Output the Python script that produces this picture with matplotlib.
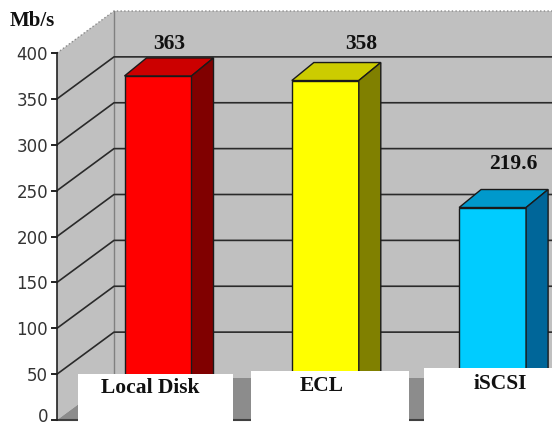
import matplotlib
matplotlib.use('Agg')
import matplotlib.pyplot as plt
from matplotlib.patches import Polygon, Rectangle

# dane
kategorie = ['Local Disk', 'ECL', 'iSCSI']
wartosci = [363, 358, 219.6]
etykiety = ['363', '358', '219.6']
ticki = [0, 50, 100, 150, 200, 250, 300, 350, 400]
kolory_przod = ['#FF0000', '#FFFF00', '#00CCFF']
kolory_gora = ['#CC0000', '#CCCC00', '#0099CC']
kolory_bok = ['#800000', '#808000', '#006699']

SERIF = 'Liberation Serif'
skala = 0.9175  # pikseli na Mb/s


def dy(px):
    return px / skala


fig = plt.figure(figsize=(5.52, 4.24), dpi=100)
ax = fig.add_axes([0, 0, 1, 1])
ax.set_xlim(0, 552)
ax.set_ylim(dy(-4), dy(420))
ax.axis('off')

# sciany wykresu
x_front, x_back, glebia = 57, 114, dy(42)
gora = 400 + glebia
ax.add_patch(Polygon([(x_front, 0), (x_back, glebia), (x_back, gora), (x_front, 400)],
                     fc='#C0C0C0', ec='none', zorder=1))
ax.add_patch(Rectangle((x_back, glebia), 552 - x_back, 400, fc='#C0C0C0', ec='none', zorder=1))
ax.add_patch(Polygon([(x_front, 0), (x_back, glebia), (552, glebia), (552, 0)],
                     fc='#8C8C8C', ec='none', hatch='....', lw=0, zorder=1.5))
ax.plot([x_front, x_back, 552], [400, gora, gora], color='#8A8A8A', lw=1, ls=':', zorder=2)
ax.plot([x_back, x_back], [glebia, gora], color='#808080', lw=1, zorder=2)
ax.plot([x_front, 552], [0, 0], color='#404040', lw=1.5, zorder=2)

# linie siatki i opisy osi
for t in ticki[1:-1]:
    ax.plot([x_front, x_back, 552], [t, t + glebia, t + glebia], color='#2A2A2A', lw=1.2, zorder=2)
for t in ticki:
    ax.plot([x_front - 5, x_front], [t, t], color='#222222', lw=1.4, zorder=3)
    # zero lezy przy samej krawedzi obrazka, troche wyzej zeby sie miescilo
    y_opis = t if t > 0 else dy(5)
    ax.text(x_front - 9, y_opis, str(t), ha='right', va='center_baseline', fontsize=12, color='#333333', zorder=3)
ax.plot([x_front, x_front], [0, 400], color='#222222', lw=1.2, zorder=3)

# slupki 3D
szer, bok_x, bok_y, wciecie = 67, 22, dy(18), dy(11)
for i, v in enumerate(wartosci):
    x = 124.5 + i * 167.3
    y = v + wciecie
    ax.add_patch(Rectangle((x, wciecie), szer, v, fc=kolory_przod[i], ec='#1A1A1A', lw=1, zorder=4))
    ax.add_patch(Polygon([(x, y), (x + bok_x, y + bok_y), (x + szer + bok_x, y + bok_y), (x + szer, y)],
                         fc=kolory_gora[i], ec='#1A1A1A', lw=1, zorder=4))
    ax.add_patch(Polygon([(x + szer, wciecie), (x + szer + bok_x, wciecie + bok_y),
                          (x + szer + bok_x, y + bok_y), (x + szer, y)],
                         fc=kolory_bok[i], ec='#1A1A1A', lw=1, zorder=4))

# wartosci nad slupkami
pozycje_wart = [(169, 376), (361, 376), (513, 256)]
for (x, yp), tekst in zip(pozycje_wart, etykiety):
    ax.text(x, dy(yp), tekst, ha='center', va='center', family=SERIF, weight='bold',
            fontsize=15.5, color='#111111', zorder=6)

ax.text(32, dy(399), 'Mb/s', ha='center', va='center', family=SERIF, weight='bold',
        fontsize=15, color='#111111', zorder=6)

# biale pola z nazwami kategorii
pola = [(78, 233, 46), (251, 409, 49), (424, 552, 52)]
pozycje_kat = [(150, 32), (322, 34), (500, 36)]
for (x0, x1, h), (x, yp), nazwa in zip(pola, pozycje_kat, kategorie):
    ax.add_patch(Rectangle((x0, dy(-4)), x1 - x0, dy(h + 4), fc='white', ec='none', zorder=5))
    ax.text(x, dy(yp), nazwa, ha='center', va='center', family=SERIF, weight='bold',
            fontsize=15.5, color='#111111', zorder=6)

fig.savefig('out.png', dpi=100)
